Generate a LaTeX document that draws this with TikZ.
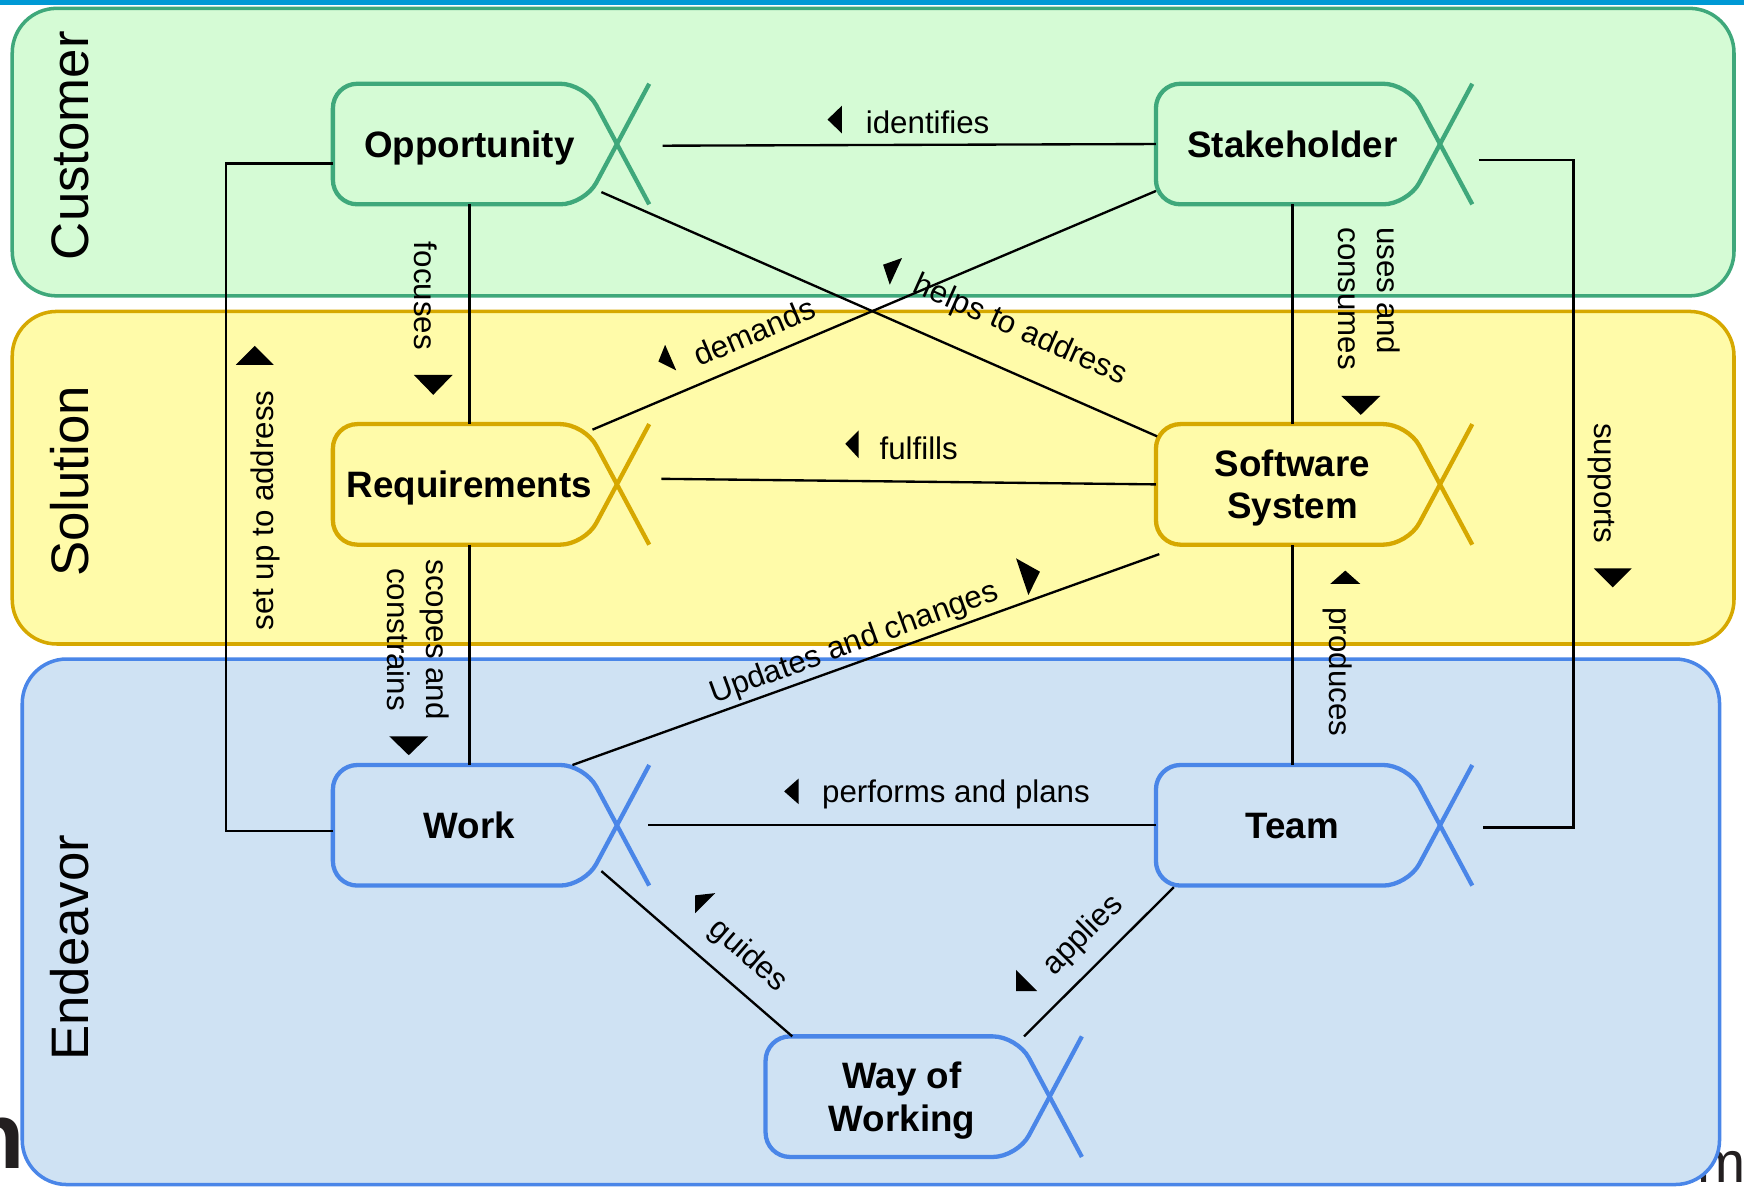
\documentclass[tikz,border=0pt]{standalone}
\usepackage{fontspec}
\setmainfont{Liberation Sans}
\usetikzlibrary{calc}

\definecolor{custfill}{HTML}{D5FBD5}
\definecolor{custline}{HTML}{3FA87B}
\definecolor{solufill}{HTML}{FFFBA9}
\definecolor{soluline}{HTML}{D6A800}
\definecolor{endvfill}{HTML}{CFE2F3}
\definecolor{endvline}{HTML}{4A86E8}
\definecolor{topbar}{HTML}{0099D5}
\definecolor{fragink}{HTML}{231F20}

\begin{document}
\begin{tikzpicture}[x=0.1mm,y=-0.1mm,
        lane/.style={draw=#1line,fill=#1fill,line width=0.9pt,rounded corners=4mm},
        lanetitle/.style={font=\fontsize{13.5}{16}\selectfont,rotate=90,anchor=base},
        alpha/.style={minimum width=24.4mm,minimum height=10.7mm,inner sep=0pt,align=center,
            text depth=0pt,font=\fontsize{9.4}{10.8}\selectfont\bfseries},
        oneline/.style={text height=2.4mm},
        alphaline/.style={draw=#1,line width=1.1pt},
        rel/.style={draw=black,line width=0.6pt},
        lbl/.style={font=\fontsize{8}{9.8}\selectfont,inner sep=0pt,align=center},
        dirmark/.style={fill=black}]

  \useasboundingbox (0,0) rectangle (1568,1067);

  % page bits behind the lanes
  \fill[topbar] (0,0) rectangle (1568,4.5);
  \node[font=\fontsize{24}{24}\selectfont\bfseries,text=fragink,inner sep=0pt,anchor=base east] (frag-n) at (23,1051) {n};
  \node[font=\fontsize{14.8}{15}\selectfont,text=fragink,inner sep=0pt,anchor=base west] (frag-m) at (1525.6,1063) {m};

  % lanes
  \draw[lane=cust] (11,7.5) rectangle (1559,266);
  \draw[lane=solu] (11,280) rectangle (1559,579);
  \draw[lane=endv] (20,592.5) rectangle (1546,1065);

  \node[lanetitle] (t-cust) at (80,131) {Customer};
  \node[lanetitle] (t-solu) at (80,433) {Solution};
  \node[lanetitle] (t-endv) at (80,852) {Endeavor};

  % alphas
  \node[alpha,oneline] (opp) at (422,129.5) {Opportunity};
  \node[alpha,oneline] (stk) at (1162,129.5) {Stakeholder};
  \node[alpha,oneline] (req) at (422,435.5) {Requirements};
  \node[alpha] (sys) at (1162,435.5) {Software\\System};
  \node[alpha,oneline] (wrk) at (422,742) {Work};
  \node[alpha,oneline] (tem) at (1162,742) {Team};
  \node[alpha] (wow) at (811,986) {Way of\\Working};

  \foreach \n/\c in {opp/custline,stk/custline,req/soluline,sys/soluline,wrk/endvline,tem/endvline,wow/endvline}{
    \draw[alphaline=\c] ($(\n.east)+(10,0)$) [rounded corners=2.2mm]
        -- ($(\n.north east)+(-19,0)$) -- (\n.north west) -- (\n.south west)
        -- ($(\n.south east)+(-19,0)$) -- ($(\n.east)+(10,0)$);
    \draw[alphaline=\c] ($(\n.north east)+(39,0)$) -- ($(\n.east)+(10,0)$) -- ($(\n.south east)+(39,0)$);
  }

  % relations
  \draw[rel] ($(opp.east)+(51,1.5)$) -- (stk.west);
  \draw[rel] (opp.south) -- (req.north);
  \draw[rel] ($(opp.south east)+(-4,-11)$) -- ($(sys.north west)+(1,11)$);
  \draw[rel] ($(stk.south west)+(0,-12)$) -- ($(req.north east)+(-12,5)$);
  \draw[rel] ($(opp.west)+(0,17.5)$) -- ++(-96,0) |- ($(wrk.west)+(0,5)$);
  \draw[rel] (stk.south) -- (sys.north);
  \draw[rel] ($(stk.east)+(45,14.5)$) -| ($(tem.east)+(130,2)$) -- ($(tem.east)+(49,2)$);
  \draw[rel] ($(req.east)+(50,-5)$) -- (sys.west);
  \draw[rel] (req.south) -- (wrk.north);
  \draw[rel] ($(wrk.north east)+(-30,0)$) -- ($(sys.south west)+(3,8.5)$);
  \draw[rel] (tem.north) -- (sys.south);
  \draw[rel] ($(wrk.east)+(38,0)$) -- (tem.west);
  \draw[rel] ($(wrk.south east)+(-4,-13)$) -- ($(wow.north west)+(24,0)$);
  \draw[rel] ($(tem.south west)+(16,1.5)$) -- ($(wow.north east)+(-13,0)$);

  % labels
  \node[lbl] (l-ident) at (834,110) {identifies};
  \node[lbl] (l-fulf) at (826,403) {fulfills};
  \node[lbl] (l-perf) at (859.5,714) {performs and plans};
  \node[lbl,rotate=-90] (l-focus) at (382.5,266) {focuses};
  \node[lbl,rotate=90] (l-setup) at (239,459) {set up to address};
  \node[lbl,rotate=-90] (l-scope) at (376,575) {scopes and\\constrains};
  \node[lbl,rotate=-90,align=left] (l-uses) at (1231,268.5) {uses and\\consumes};
  \node[lbl,rotate=-90] (l-supp) at (1440,434.5) {supports};
  \node[lbl,rotate=-90] (l-prod) at (1202.5,604) {produces};
  \node[lbl,rotate=-24] (l-helps) at (917,297) {helps to address};
  \node[lbl,rotate=23] (l-dem) at (678,298) {demands};
  \node[lbl,rotate=20] (l-upd) at (768,579) {Updates and changes};
  \node[lbl,rotate=-41] (l-guide) at (672.5,859.5) {guides};
  \node[lbl,rotate=45] (l-appl) at (974,841) {applies};

  % reading direction marks
  \foreach \a/\b/\c in {{744,107.5}/{757,95}/{757,120},{760,399}/{772,387}/{772,412},
      {705,711.5}/{718,700}/{718,723},{372,337}/{407,337}/{389.5,355},
      {350,662}/{385,662}/{367.5,679},{1206,356}/{1241,356}/{1223.5,373},
      {1433,511}/{1467,511}/{1450,528},{212,328}/{246,328}/{229,311},
      {1196,525}/{1223,525}/{1209.5,513},{794,238}/{811,232}/{800,256},
      {592,325}/{598,310}/{608,333},{913.5,502}/{935,514}/{924.6,535},
      {625,805}/{643,803}/{625,821},{913.5,872}/{913.5,891}/{932.4,891}}
    \fill[dirmark] (\a) -- (\b) -- (\c) -- cycle;

\end{tikzpicture}
\end{document}
